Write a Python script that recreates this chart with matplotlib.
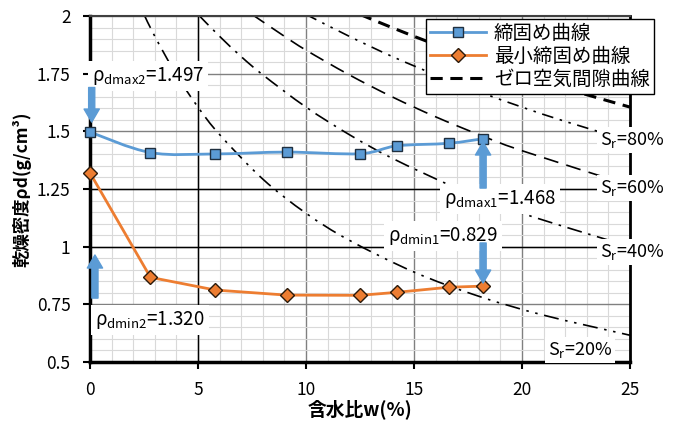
import numpy as np
import matplotlib
matplotlib.use("Agg")
import matplotlib.pyplot as plt
from matplotlib.path import Path
from matplotlib.patches import PathPatch
from matplotlib.lines import Line2D

plt.rcParams['font.family'] = ['Noto Sans CJK JP', 'DejaVu Sans']
plt.rcParams['mathtext.fontset'] = 'custom'
plt.rcParams['mathtext.rm'] = 'Noto Sans CJK JP'

# 締固め曲線 / 最小締固め曲線
w_pts = [0, 2.8, 5.8, 9.1, 12.5, 14.2, 16.6, 18.2]
rho_max = [1.497, 1.408, 1.402, 1.410, 1.403, 1.437, 1.448, 1.468]
rho_min = [1.320, 0.867, 0.812, 0.790, 0.789, 0.802, 0.824, 0.829]

# saturation curves, points
w_sr20 = [2.5, 3, 4, 5, 6, 8, 10, 12, 15, 18, 21, 25]
rho_sr20 = [2.007, 1.912, 1.745, 1.605, 1.486, 1.293, 1.145, 1.028, 0.890, 0.785, 0.703, 0.616]
w_sr40 = [5, 6, 7, 8, 10, 12, 14, 17, 20, 25]
rho_sr40 = [2.007, 1.912, 1.824, 1.745, 1.605, 1.486, 1.383, 1.253, 1.145, 1.000]
w_sr60 = [7.5, 9, 10, 12, 14, 16, 18, 20, 25]
rho_sr60 = [2.007, 1.912, 1.852, 1.745, 1.649, 1.563, 1.486, 1.416, 1.266]
w_sr80 = [10, 12, 14, 16, 18, 20, 22, 25]
rho_sr80 = [2.007, 1.912, 1.824, 1.745, 1.672, 1.605, 1.543, 1.458]
w_zero = [12.5, 14, 16, 18, 20, 22, 25]
rho_zero = [2.007, 1.949, 1.876, 1.808, 1.745, 1.686, 1.605]

sr_labels = ["80", "60", "40", "20"]

BLUE = "#5B9BD5"
ORANGE = "#ED7D31"


def smooth_path(xs, ys):
    # bezier through the points, like excel's smoothed lines
    p = np.column_stack([xs, ys]).astype(float)
    n = len(p)
    verts = [p[0]]
    codes = [Path.MOVETO]
    for i in range(n - 1):
        p0 = p[i - 1] if i > 0 else p[i]
        p3 = p[i + 2] if i + 2 < n else p[i + 1]
        c1 = p[i] + (p[i + 1] - p0) / 6
        c2 = p[i + 1] - (p3 - p[i]) / 6
        verts += [c1, c2, p[i + 1]]
        codes += [Path.CURVE4] * 3
    return Path(verts, codes)


fig = plt.figure(figsize=(6.75, 4.23), dpi=100)
ax = fig.add_axes([0.1333, 0.1442, 0.8, 0.818])

ax.set_xlim(0, 25)
ax.set_ylim(0.5, 2)
ax.set_xticks(np.arange(0, 26, 5))
ax.set_yticks(np.arange(0.5, 2.01, 0.25))
ax.set_yticklabels(["0.5", "0.75", "1", "1.25", "1.5", "1.75", "2"])
ax.set_xticks(np.arange(0, 26, 1), minor=True)
ax.set_yticks(np.arange(0.5, 2.01, 0.05), minor=True)
ax.tick_params(which='minor', length=0)
ax.tick_params(which='major', length=5, width=1.5, labelsize=12.5)
ax.tick_params(axis='y', pad=9)
ax.tick_params(axis='x', pad=9)
ax.grid(which='minor', color='#d9d9d9', lw=0.8)
ax.grid(which='major', color='#808080', lw=1)
ax.set_axisbelow(True)
ax.axvline(5, color='black', lw=1, zorder=0.9)
ax.axhline(1, color='black', lw=1, zorder=0.9)
ax.axhline(1.25, color='black', lw=1, zorder=0.9)

for s in ['left', 'bottom']:
    ax.spines[s].set_linewidth(2.5)
ax.spines['right'].set_linewidth(2)
ax.spines['top'].set_linewidth(1.5)
ax.spines['top'].set_color('#404040')

# saturation lines
styles = [
    (w_sr20, rho_sr20, (0, (9, 4, 1.5, 4, 1.5, 4)), 1.2),
    (w_sr40, rho_sr40, (0, (9, 4, 1.5, 4)), 1.2),
    (w_sr60, rho_sr60, (0, (9, 5)), 1.2),
    (w_sr80, rho_sr80, (0, (7, 4, 1.5, 4, 1.5, 4)), 1.2),
    (w_zero, rho_zero, (0, (4, 2.5)), 2.2),
]
for xs, ys, ls, lw in styles:
    ax.add_patch(PathPatch(smooth_path(xs, ys), fill=False, ec='black',
                           lw=lw, ls=ls, zorder=2))

# compaction curves
ax.add_patch(PathPatch(smooth_path(w_pts, rho_max), fill=False, ec=BLUE,
                       lw=2, zorder=3))
ax.plot(w_pts, rho_max, ls='none', marker='s', ms=7.5, mfc=BLUE, mec='#1f2f3f',
        mew=1, zorder=4, clip_on=False)
ax.plot(w_pts, rho_min, color=ORANGE, lw=2, marker='D', ms=7, mfc=ORANGE,
        mec='#2b1a0a', mew=1, zorder=4, clip_on=False)

# annotations
box = dict(facecolor='white', edgecolor='none', pad=3)
ax.text(0.1, 1.74, r"ρ$_{\mathrm{dmax2}}$=1.497", fontsize=13.5, va='center',
        bbox=box, zorder=6, clip_on=False)
ax.text(16.4, 1.207, r"ρ$_{\mathrm{dmax1}}$=1.468", fontsize=13.5, va='center',
        bbox=box, zorder=6)
ax.text(13.8, 1.046, r"ρ$_{\mathrm{dmin1}}$=0.829", fontsize=13.5, va='center',
        bbox=box, zorder=6)
ax.text(0.23, 0.682, r"ρ$_{\mathrm{dmin2}}$=1.320", fontsize=13.5, va='center',
        bbox=box, zorder=6)

arrow = dict(arrowstyle='simple,head_width=0.55,head_length=0.47,tail_width=0.22',
             color=BLUE, shrinkA=0, shrinkB=0, mutation_scale=20)
ax.annotate("", xy=(0.08, 1.54), xytext=(0.08, 1.69), arrowprops=arrow,
            zorder=7, annotation_clip=False)
ax.annotate("", xy=(18.2, 1.454), xytext=(18.2, 1.254), arrowprops=arrow, zorder=7)
ax.annotate("", xy=(18.2, 0.842), xytext=(18.2, 1.016), arrowprops=arrow, zorder=7)
ax.annotate("", xy=(0.23, 0.964), xytext=(0.23, 0.777), arrowprops=arrow, zorder=7)

sr_pos = [(23.6, 1.462), (23.6, 1.254), (23.6, 0.977), (21.2, 0.552)]
for lab, (x, y) in zip(sr_labels, sr_pos):
    ax.text(x, y, r"S$_{\mathrm{r}}$=" + lab + "%", fontsize=13, va='center',
            bbox=dict(facecolor='white', edgecolor='none', pad=2),
            zorder=6, clip_on=False)

ax.set_xlabel("含水比w(%)", fontsize=13.5, fontweight='bold', labelpad=0)
ax.set_ylabel("乾燥密度ρd(g/cm³)", fontsize=12.5, fontweight='bold', labelpad=4)

handles = [
    Line2D([], [], color=BLUE, lw=2, marker='s', ms=7.5, mfc=BLUE, mec='#1f2f3f'),
    Line2D([], [], color=ORANGE, lw=2, marker='D', ms=7, mfc=ORANGE, mec='#2b1a0a'),
    Line2D([], [], color='black', lw=2.2, ls=(0, (4, 2.5))),
]
leg = ax.legend(handles, ["締固め曲線", "最小締固め曲線", "ゼロ空気間隙曲線"],
                loc='upper right', bbox_to_anchor=(1.044, 0.991), borderaxespad=0,
                fontsize=14, fancybox=False, framealpha=1, edgecolor='black',
                handlelength=2.9, handletextpad=0.4, labelspacing=0.1,
                borderpad=0.2)
leg.get_frame().set_linewidth(1)
leg.set_zorder(8)

fig.savefig("out.png", dpi=100)
